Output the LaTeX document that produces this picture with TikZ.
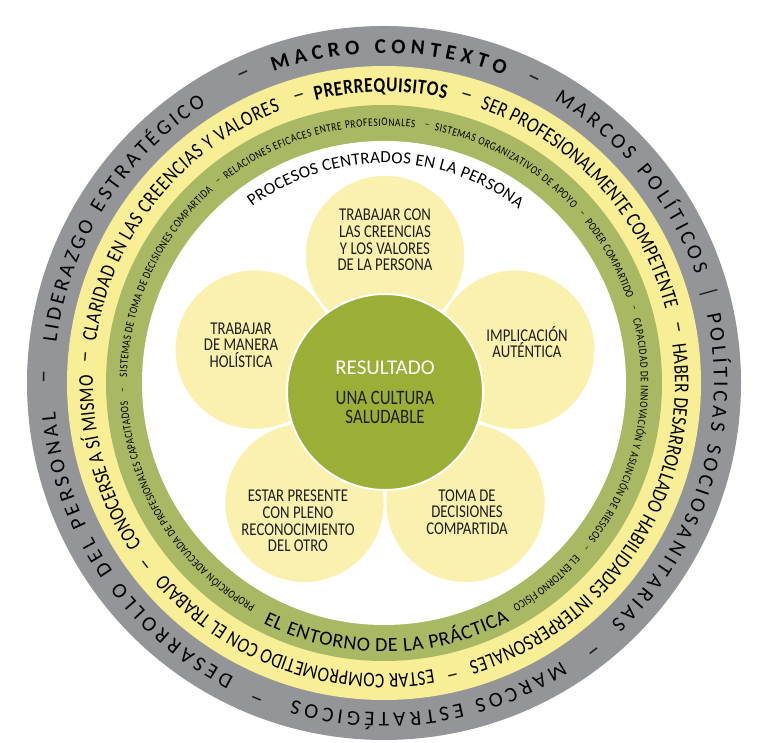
\documentclass[tikz,border=0pt]{standalone}
\usepackage{fontspec}
\setmainfont{Carlito}
\newfontfamily\cnFont{Carlito}
\newfontfamily\cfFont[FakeStretch=0.82]{Carlito}
\usetikzlibrary{decorations.text}
\definecolor{ringgray}{HTML}{939598}
\definecolor{ringyellow}{HTML}{F8EE96}
\definecolor{ringgreen}{HTML}{A9B963}
\definecolor{petalyellow}{HTML}{FAF1AE}
\definecolor{centergreen}{HTML}{9BAF36}
\definecolor{ink}{HTML}{1E1E1E}
\newcommand\fGray{\cnFont\fontsize{21}{21}\selectfont}
\newcommand\fGrayB{\cnFont\bfseries\fontsize{21}{21}\selectfont}
\newcommand\fYel{\cfFont\fontsize{21}{21}\selectfont}
\newcommand\fYelB{\cfFont\bfseries\fontsize{21}{21}\selectfont}
\newcommand\fSmall{\cfFont\fontsize{11.5}{11.5}\selectfont}
\newcommand\fEnt{\cnFont\fontsize{20}{20}\selectfont}
\newcommand\fProc{\cnFont\fontsize{17}{17}\selectfont}
\newcommand\RingText[5]{\path[decorate, decoration={text along path, text align=fit to path, text={|#1|#5}}] ([shift={(#2:#4)}]C) arc[start angle=#2, end angle=#3, radius=#4];}
\begin{document}
\begin{tikzpicture}[x=1pt,y=1pt,
  petal/.style={fill=petalyellow, draw=white, line width=1.5pt},
  core/.style={fill=centergreen, draw=white, line width=2pt},
  petaltext/.style={align=center, inner sep=0pt, text=ink, font=\cfFont\fontsize{18}{16.7}\selectfont},
  dashmark/.style={inner sep=0pt, text=ink}]
\useasboundingbox (0,0) rectangle (760,743);
\coordinate (C) at (384,360);
\coordinate (F) at (385,351);
% rings
\fill[ringgray] (C) circle[radius=357];
\fill[ringyellow] (C) circle[radius=317];
\fill[ringgreen] (C) circle[radius=278];
\fill[white] (C) circle[radius=242];
% petals
\foreach \a in {162,234,306,18,90} {
  \path[petal] ([shift={(\a:137)}]F) circle[radius=80];
}
\path[core] (F) circle[radius=98];
% petal texts
\node[petaltext] (t1) at (385,503) {TRABAJAR CON\\LAS CREENCIAS\\Y LOS VALORES\\DE LA PERSONA};
\node[petaltext] (t2) at (241,398) {TRABAJAR\\DE MANERA\\HOLÍSTICA};
\node[petaltext] (t3) at (527,401) {IMPLICACIÓN\\AUTÉNTICA};
\node[petaltext] (t4) at (298,222) {ESTAR PRESENTE\\CON PLENO\\RECONOCIMIENTO\\DEL OTRO};
\node[petaltext] (t5) at (467,231) {TOMA DE\\DECISIONES\\COMPARTIDA};
% center texts
\node[inner sep=0pt, text=white, font=\cnFont\fontsize{21}{21}\selectfont] (res) at (385,375) {RESULTADO};
\node[petaltext, font=\cfFont\fontsize{20.5}{19}\selectfont] (cult) at (385,336) {UNA CULTURA\\SALUDABLE};
% gray ring
\RingText{\fGrayB}{109.6}{68.7}{330}{MACRO CONTEXTO}
\RingText{\fGray}{59}{19.2}{330}{MARCOS POLÍTICOS}
\RingText{\fGray}{12}{-46.6}{330}{POLÍTICAS SOCIOSANITARIAS}
\RingText{\fGray}{-57.5}{-106}{330}{MARCOS ESTRATÉGICOS}
\RingText{\fGray}{-117}{-175}{330}{DESARROLLO DEL PERSONAL}
\RingText{\fGray}{173}{122.6}{330}{LIDERAZGO ESTRATÉGICO}
\node[dashmark, rotate=15.6-90, font=\fGray] (bar) at ([shift={(15.6:337)}]C) {|};
\foreach \a/\n in {63.7/g1,-52/g2,-112/g3,179/g4,114.5/g5} {
  \node[dashmark, rotate=\a-90, font=\cnFont\fontsize{26}{26}\selectfont] (\n) at ([shift={(\a:337)}]C) {–};
}
% yellow ring
\RingText{\fYelB}{103.6}{77.7}{291}{PRERREQUISITOS}
\RingText{\fYel}{70.7}{14.7}{291}{SER PROFESIONALMENTE COMPETENTE}
\RingText{\fYel}{7.7}{-73}{291}{HABER DESARROLLADO HABILIDADES INTERPERSONALES}
\RingText{\fYel}{-80.3}{-139}{291}{ESTAR COMPROMETIDO CON EL TRABAJO}
\RingText{\fYel}{-146.4}{-169.6}{291}{CONOCERSE A SÍ}
\RingText{\fYel}{-170.6}{-181.5}{291}{MISMO}
\RingText{\fYel}{171.9}{110.9}{291}{CLARIDAD EN LAS CREENCIAS Y VALORES}
\foreach \a/\n in {74/y1,10.8/y2,-76.8/y3,-142.8/y4,175/y5,106.5/y6} {
  \node[dashmark, rotate=\a-90, font=\cnFont\fontsize{24}{24}\selectfont] (\n) at ([shift={(\a:297)}]C) {–};
}
% green ring
\RingText{\fSmall}{-120}{-175.8}{257}{PROPORCIÓN ADECUADA DE PROFESIONALES CAPACITADOS}
\RingText{\fSmall}{178.7}{131.7}{257}{SISTEMAS DE TOMA DE DECISIONES COMPARTIDA}
\RingText{\fSmall}{127.7}{83.1}{257}{RELACIONES EFICACES ENTRE PROFESIONALES}
\RingText{\fSmall}{78.7}{42.7}{257}{SISTEMAS ORGANIZATIVOS DE APOYO}
\RingText{\fSmall}{38.7}{19.1}{257}{PODER COMPARTIDO}
\RingText{\fSmall}{14.4}{-37.4}{257}{CAPACIDAD DE INNOVACIÓN Y ASUNCIÓN DE RIESGOS}
\RingText{\fSmall}{-42}{-60}{257}{EL ENTORNO FÍSICO}
\foreach \a/\n in {-178.5/s1,129.4/s2,80.5/s3,40.6/s4,16.8/s5,-39.1/s6} {
  \node[dashmark, rotate=\a-90, font=\fSmall] (\n) at ([shift={(\a:260)}]C) {–};
}
\RingText{\fEnt}{-116.7}{-62.2}{269}{EL ENTORNO DE LA PRÁCTICA}
% inner title
\RingText{\fProc}{126.8}{52.3}{220}{PROCESOS CENTRADOS EN LA PERSONA}
\end{tikzpicture}
\end{document}
